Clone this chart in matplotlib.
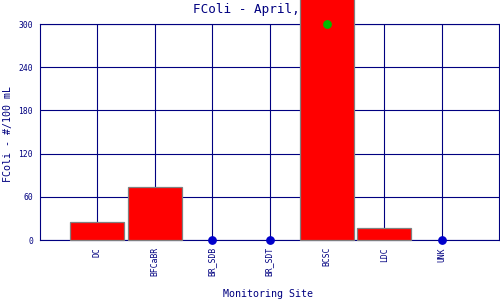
import matplotlib
matplotlib.use("Agg")
import matplotlib.pyplot as plt

sites = ["DC", "BFCaBR", "BR_SDB", "BR_SDT", "BCSC", "LDC", "UNK"]
bar_values = [25, 73, 0, 0, 420, 16, 0]
zero_sites = ["BR_SDB", "BR_SDT", "UNK"]
green_sites = ["BCSC"]
green_values = [300]
yticks = [0, 60, 120, 180, 240, 300]

navy = "#000080"
font = "DejaVu Sans Mono"

fig = plt.figure(figsize=(5, 3), dpi=100)
ax = fig.add_axes([40/500, 60/300, 459/500, 216/300])

xpos = list(range(1, len(sites) + 1))
idx = {s: i + 1 for i, s in enumerate(sites)}

bx = [idx[s] for s, v in zip(sites, bar_values) if v > 0]
bv = [v for v in bar_values if v > 0]
ax.bar(bx, bv, width=0.94, color="#ff0000", edgecolor="#808080", linewidth=0.9,
       zorder=3, clip_on=False)
ax.scatter([idx[s] for s in zero_sites], [0] * len(zero_sites), s=28, color="#0000cc",
           zorder=4, clip_on=False)
ax.scatter([idx[s] for s in green_sites], green_values, s=28, color="#00bb00",
           zorder=5, clip_on=False)

ax.set_xlim(0, 8)
ax.set_ylim(0, 300)
ax.set_xticks(xpos)
ax.set_xticklabels(sites, rotation=90, fontsize=5.8, family=font, color=navy)
ax.set_yticks(yticks)
ax.set_yticklabels([str(t) for t in yticks], fontsize=5.8, family=font, color=navy)
ax.tick_params(length=0, pad=5)
ax.grid(True, color=navy, linewidth=0.8, zorder=1)
ax.set_axisbelow(True)
for sp in ax.spines.values():
    sp.set_color(navy)
    sp.set_linewidth(0.8)
    sp.set_zorder(2)

fig.text(268/500, 1 - 294/300, "Monitoring Site", ha="center", va="center",
         fontsize=7.2, family=font, color=navy)
fig.text(8/500, 1 - 134/300, "FColi - #/100 mL", ha="center", va="center",
         rotation=90, fontsize=7.2, family=font, color=navy)

t = fig.text(265.5/500, 1 - 10/300, "FColi - April, 2003", ha="center", va="center",
             fontsize=9.1, family=font, color=navy)
t.set_zorder(-1)

fig.savefig("out.png", dpi=100)
